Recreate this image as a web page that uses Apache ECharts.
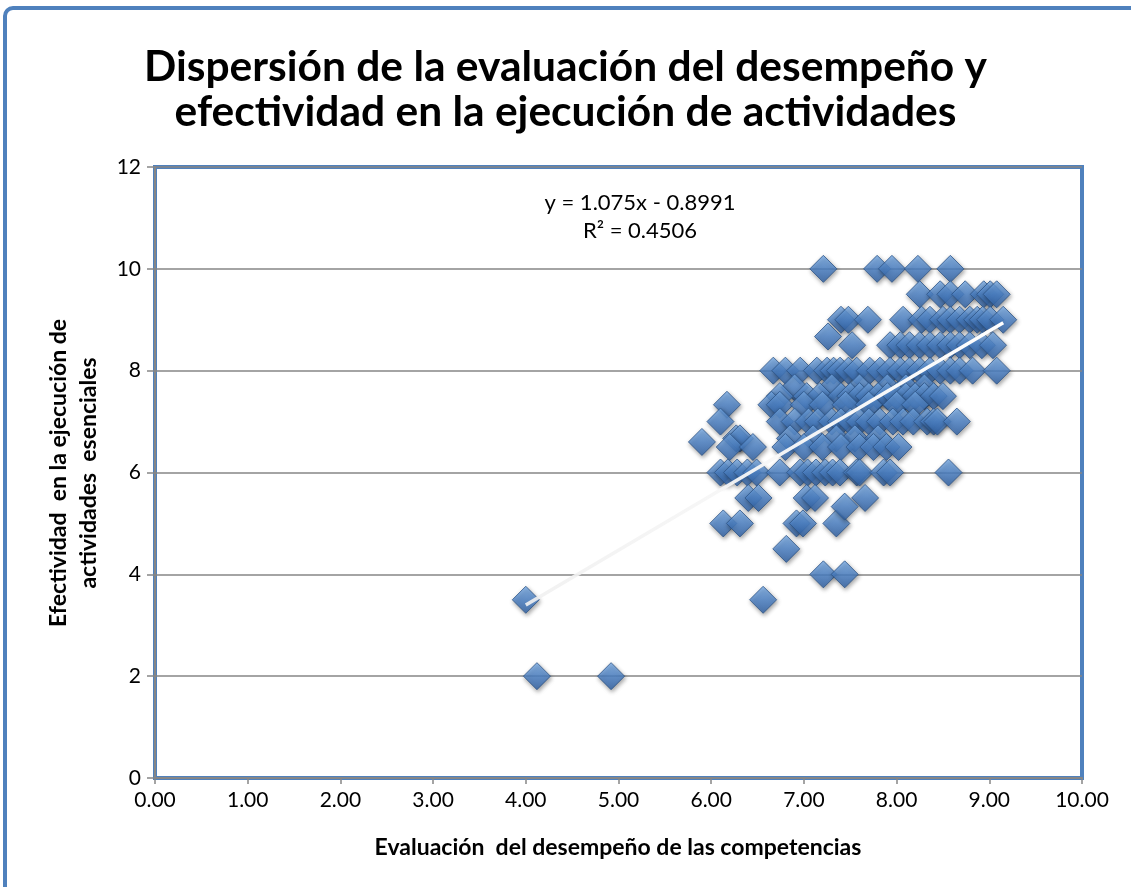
<!DOCTYPE html>
<html>
<head>
<meta charset="utf-8">
<script src="https://cdn.jsdelivr.net/npm/echarts@6/dist/echarts.min.js"></script>
<style>
html,body{margin:0;padding:0;background:#fff;}
#c{width:1131px;height:887px;}
</style>
</head>
<body>
<div id="c"></div>
<script>
// Data
const titleText = 'Dispersión de la evaluación del desempeño y\nefectividad en la ejecución de actividades';
const xAxisTitle = 'Evaluación  del desempeño de las competencias';
const yAxisTitle = 'Efectividad  en la ejecución de\nactividades  esenciales';
const equationText = 'y = 1.075x - 0.8991\nR² = 0.4506';

const xTicks = [0, 1, 2, 3, 4, 5, 6, 7, 8, 9, 10];
const yTicks = [0, 2, 4, 6, 8, 10, 12];

const lowPoints = [[4.0,3.5],[4.12,2],[4.92,2],[5.9,6.6],[6.81,4.5],[7.21,4],[7.44,4],[6.56,3.5],[7.44,5.33],[7.26,8.67]];
const row10 = [[7.21,10],[7.79,10],[7.95,10],[8.23,10],[8.58,10]];
const row95 = [[8.25,9.5],[8.47,9.5],[8.58,9.5],[8.74,9.5],[8.94,9.5],[9.01,9.5],[9.08,9.5]];
const row9 = [[7.4,9],[7.48,9],[7.69,9],[8.07,9],[8.27,9],[8.36,9],[8.5,9],[8.58,9],[8.68,9],[8.79,9],[8.87,9],[8.93,9],[9.01,9],[9.15,9]];
const row85 = [[7.52,8.5],[7.93,8.5],[8.04,8.5],[8.14,8.5],[8.25,8.5],[8.36,8.5],[8.47,8.5],[8.58,8.5],[8.68,8.5],[8.79,8.5],[8.92,8.5],[9.04,8.5]];
const row8 = [[6.67,8],[6.8,8],[6.96,8],[7.14,8],[7.25,8],[7.32,8],[7.39,8],[7.48,8],[7.57,8],[7.71,8],[7.82,8],[7.93,8],[8.04,8],[8.14,8],[8.25,8],[8.36,8],[8.47,8],[8.58,8],[8.68,8],[8.82,8],[9.08,8]];
const row767 = [[6.9,7.67],[7.3,7.67],[7.6,7.67],[7.9,7.67],[8.1,7.67],[8.3,7.67]];
const row75 = [[6.74,7.5],[7.03,7.5],[7.17,7.5],[7.4,7.5],[7.5,7.5],[7.6,7.5],[7.7,7.5],[7.8,7.5],[7.9,7.5],[8.0,7.5],[8.1,7.5],[8.2,7.5],[8.3,7.5],[8.4,7.5],[8.5,7.5]];
const row733 = [[6.17,7.33],[6.65,7.33],[6.74,7.33],[7.0,7.33],[7.2,7.33],[7.45,7.33],[7.7,7.33],[8.0,7.33],[8.2,7.33]];
const row7 = [[6.1,7],[6.74,7],[6.9,7],[7.05,7],[7.15,7],[7.3,7],[7.4,7],[7.5,7],[7.6,7],[7.7,7],[7.82,7],[7.96,7],[8.07,7],[8.18,7],[8.33,7],[8.4,7],[8.44,7],[8.65,7]];
const row667 = [[6.27,6.67],[6.31,6.67],[6.85,6.67],[7.1,6.67],[7.35,6.67],[7.55,6.67],[7.8,6.67]];
const row65 = [[6.2,6.5],[6.45,6.5],[6.8,6.5],[7.0,6.5],[7.2,6.5],[7.4,6.5],[7.6,6.5],[7.75,6.5],[7.89,6.5],[8.02,6.5]];
const row6 = [[6.1,6],[6.18,6],[6.28,6],[6.39,6],[6.49,6],[6.74,6],[6.96,6],[7.04,6],[7.13,6],[7.23,6],[7.31,6],[7.39,6],[7.57,6],[7.6,6],[7.86,6],[7.93,6],[8.56,6]];
const row55 = [[6.4,5.5],[6.51,5.5],[7.03,5.5],[7.12,5.5],[7.66,5.5]];
const row5 = [[6.13,5],[6.31,5],[6.92,5],[6.99,5],[7.35,5]];

const trendEnds = [[4.0, 3.40], [9.15, 8.94]];

const scatterData = [].concat(row10, row95, row9, row85, row8, row767, row75, row733, row7, row667, row65, row6, row55, row5, lowPoints);

const chart = echarts.init(document.getElementById('c'), null, {renderer: 'canvas'});
const fam = 'Lato, "Open Sans", sans-serif';

chart.setOption({
  animation: false,
  backgroundColor: '#ffffff',
  title: {
    text: titleText,
    left: 'center',
    top: 40,
    textStyle: {fontFamily: fam, fontSize: 42.5, fontWeight: 'bold', color: '#000', lineHeight: 45}
  },
  grid: {
    left: 155, right: 49, top: 167, bottom: 109,
    show: true, borderColor: '#4f81bd', borderWidth: 4, backgroundColor: 'transparent'
  },
  xAxis: {
    type: 'value', min: xTicks[0], max: xTicks[xTicks.length - 1], interval: 1,
    axisLine: {show: true, onZero: false, lineStyle: {color: '#868686', width: 2}},
    axisTick: {show: true, inside: false, length: 6, lineStyle: {color: '#868686', width: 1.5}},
    axisLabel: {fontFamily: fam, fontSize: 21, color: '#000', margin: 12, formatter: v => v.toFixed(2)},
    splitLine: {show: false}
  },
  yAxis: {
    type: 'value', min: yTicks[0], max: yTicks[yTicks.length - 1], interval: 2,
    axisLine: {show: true, onZero: false, lineStyle: {color: '#868686', width: 2}},
    axisTick: {show: true, inside: false, length: 8, lineStyle: {color: '#868686', width: 1.5}},
    axisLabel: {fontFamily: fam, fontSize: 21, color: '#000', margin: 14},
    splitLine: {show: true, lineStyle: {color: '#868686', width: 1.5}}
  },
  series: [
    {
      type: 'scatter',
      data: scatterData,
      symbol: 'diamond',
      symbolSize: 27,
      itemStyle: {
        color: new echarts.graphic.LinearGradient(0, 0, 0, 1, [
          {offset: 0, color: '#7bb0ec'},
          {offset: 0.5, color: '#4f86cc'},
          {offset: 1, color: '#2f62a8'}
        ]),
        borderColor: '#2c5487',
        borderWidth: 1,
        shadowBlur: 4,
        shadowColor: 'rgba(0,0,0,0.45)',
        shadowOffsetX: 1,
        shadowOffsetY: 2
      },
      z: 2
    },
    {
      type: 'line',
      data: trendEnds,
      showSymbol: false,
      symbol: 'none',
      lineStyle: {
        width: 3.5,
        color: new echarts.graphic.LinearGradient(0, 0, 1, 0, [
          {offset: 0, color: 'rgba(240,240,240,0.9)'},
          {offset: 1, color: '#ffffff'}
        ])
      },
      z: 3,
      silent: true
    }
  ],
  graphic: [
    {
      type: 'rect', silent: true,
      shape: {x: 5, y: 8, width: 1200, height: 1000, r: 8},
      style: {fill: 'none', stroke: '#4f81bd', lineWidth: 4},
      z: 100
    },
    {
      type: 'text', silent: true,
      x: 640, y: 217,
      style: {text: equationText, fontFamily: fam, fontSize: 22, fill: '#000', align: 'center', verticalAlign: 'middle', lineHeight: 28}
    },
    {
      type: 'text', silent: true,
      x: 618, y: 848,
      style: {text: xAxisTitle, fontFamily: fam, fontSize: 23, fontWeight: 'bold', fill: '#000', align: 'center', verticalAlign: 'middle'}
    },
    {
      type: 'text', silent: true,
      x: 74, y: 473, rotation: Math.PI / 2,
      style: {text: yAxisTitle, fontFamily: fam, fontSize: 23, fontWeight: 'bold', fill: '#000', align: 'center', verticalAlign: 'middle', lineHeight: 30}
    }
  ]
});
</script>
</body>
</html>
